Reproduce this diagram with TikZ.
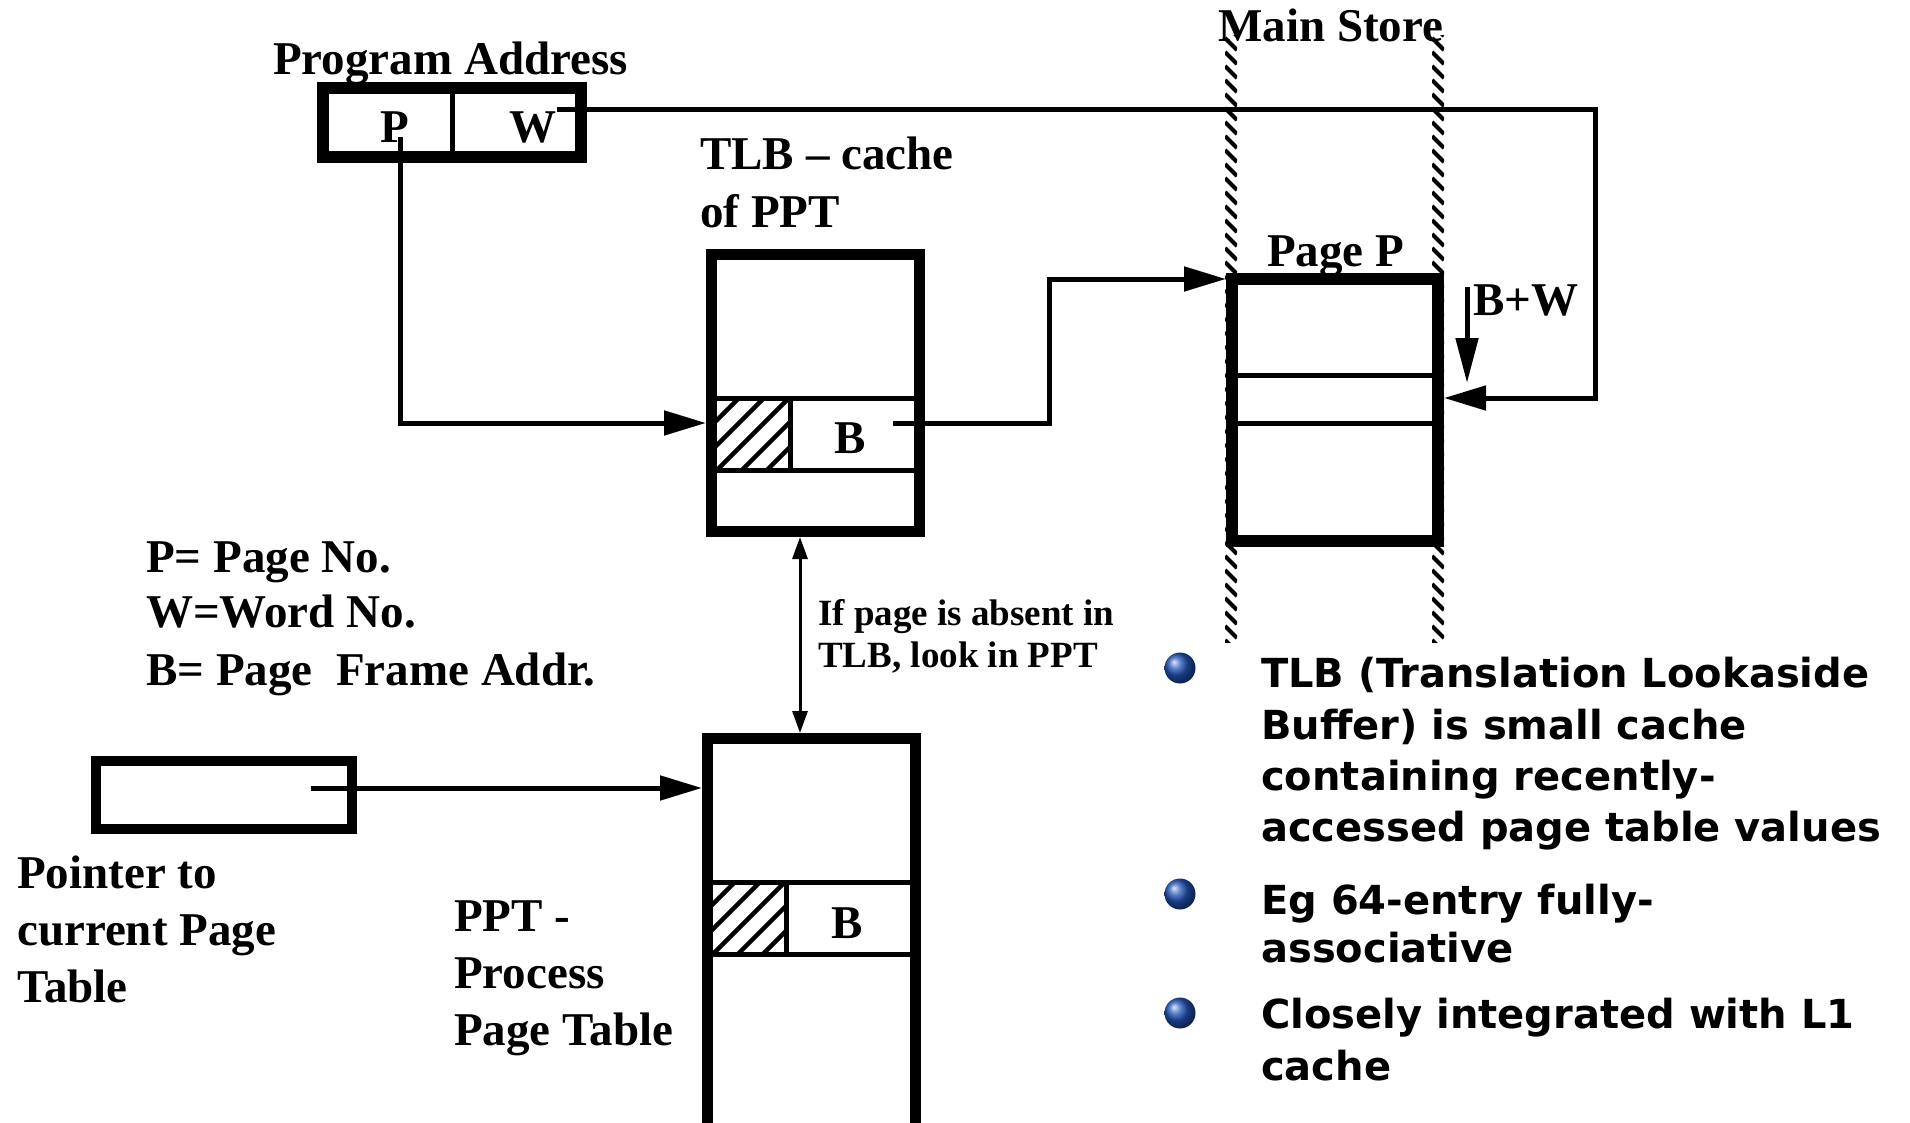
\documentclass[tikz,border=0pt]{standalone}
\usepackage{fontspec}
\setmainfont{Liberation Serif}
\newfontfamily\bulletfont{DejaVu Sans}
\usetikzlibrary{arrows.meta}
\begin{document}
\begin{tikzpicture}[x=1pt,y=-1pt,
  lbl/.style={font=\fontsize{47}{56}\selectfont\bfseries, inner sep=0pt, anchor=base west},
  lblc/.style={font=\fontsize{47}{56}\selectfont\bfseries, inner sep=0pt, anchor=base},
  small/.style={font=\fontsize{37}{43}\selectfont\bfseries, inner sep=0pt, anchor=base west},
  btxt/.style={font=\bulletfont\fontsize{40}{48}\selectfont\bfseries, inner sep=0pt, anchor=base west},
  heavy/.style={draw, rectangle, line width=12pt, inner sep=0pt},
  rowline/.style={line width=5pt},
  hatchline/.style={line width=4.5pt},
  conn/.style={line width=5pt, -{Triangle[length=42pt,width=24pt]}},
  dbl/.style={line width=3pt, {Triangle[length=22pt,width=15pt]}-{Triangle[length=22pt,width=15pt]}},
  bwarrow/.style={line width=5pt, -{Triangle[length=45pt,width=22pt]}},
  ball/.style={circle, inner sep=0pt, minimum size=31pt, shading=ball, ball color={rgb,255:red,35;green,85;blue,185}},
]
\useasboundingbox (0,0) rectangle (1910,1123);

% ---- Main store hatched boundaries
\foreach \sx in {1231,1438}{
  \begin{scope}
    \clip (\sx-6,36) rectangle (\sx+6,642);
    \foreach \sy in {24,38,...,645}
      \draw[line width=4.2pt] (\sx-6,\sy) -- (\sx+6,\sy+12);
  \end{scope}
}

% ---- Program address register
\node[heavy, minimum width=258pt, minimum height=69pt] (pa) at (452,122.5) {};
\draw[rowline] (pa.north) -- (pa.south);
\node[lblc] (ptxt) at (395,143) {P};
\node[lblc] (wtxt) at (533,143) {W};
\node[lbl] (patitle) at (273,75) {Program Address};

% ---- TLB
\begin{scope}
  \clip (717,400) rectangle (790,468);
  \foreach \k in {0,...,6}
    \draw[hatchline] ({667+25*\k},470) -- ({667+25*\k+75},395);
\end{scope}
\draw[rowline] (711.5,398) -- (919.5,398);
\draw[rowline] (711.5,470) -- (919.5,470);
\draw[rowline] (790,398) -- (790,470);
\node[heavy, line width=11pt, minimum width=208pt, minimum height=277pt] (tlb) at (815.5,393) {};
\node[lblc] (btlb) at (850,453) {B};
\node[lbl] (tlbt1) at (700,170) {TLB -- cache};
\node[lbl] (tlbt2) at (700,228) {of PPT};

% ---- Page P in main store
\draw[rowline] (1232,375) -- (1438,375);
\draw[rowline] (1232,423) -- (1438,423);
\node[heavy, minimum width=206pt, minimum height=262pt] (pp) at (1335,410) {};
\node[lbl] (mstitle) at (1218,42) {Main Store};
\node[lbl] (pptitle) at (1267,266) {Page P};
\node[lbl] (bw) at (1473,315) {B+W};
\coordinate (bwtop) at (1467,287);
\coordinate (bwbot) at (1467,383);
\draw[bwarrow] (bwtop) -- (bwbot);

% ---- PPT
\begin{scope}
  \clip (713,884) rectangle (786,952);
  \foreach \k in {0,...,6}
    \draw[hatchline] ({663+25*\k},954) -- ({663+25*\k+75},879);
\end{scope}
\draw[rowline] (707.5,882) -- (915.5,882);
\draw[rowline] (707.5,954) -- (915.5,954);
\draw[rowline] (786,882) -- (786,954);
\node[heavy, line width=11pt, minimum width=208pt, minimum height=421.5pt] (ppt) at (811.5,949.25) {};
\node[lblc] (bppt) at (847,938) {B};

% ---- Pointer to current page table
\node[heavy, line width=10pt, minimum width=256pt, minimum height=68pt] (ptr) at (224,795) {};

% ---- Connectors
\coordinate (pstart) at (400,137);
\draw[conn] (pstart) |- ([yshift=-30pt]tlb.west);
\coordinate (wstart) at (557,110);
\draw[conn] (wstart) -- ++(1038,0) |- ([yshift=12pt]pp.east);
\coordinate (bstart) at (893,423);
\draw[conn] (bstart) -- ++(156,0) |- ([yshift=-6pt]pp.north west);
\draw[dbl] ([xshift=-15.5pt]tlb.south) -- ([xshift=-11.5pt]ppt.north);
\coordinate (ptrstart) at (311,788);
\draw[conn] (ptrstart) -- (ptrstart -| ppt.west);

% ---- Legend texts
\node[lbl] (leg1) at (146,572) {P= Page No.};
\node[lbl] (leg2) at (146,627) {W=Word No.};
\node[lbl] (leg3) at (146,685) {B= Page\ \ Frame Addr.};
\node[small] (abs1) at (818,625) {If page is absent in};
\node[small] (abs2) at (818,667) {TLB, look in PPT};
\node[lbl] (ptrt1) at (17,888) {Pointer to};
\node[lbl] (ptrt2) at (17,945) {current Page};
\node[lbl] (ptrt3) at (17,1002) {Table};
\node[lbl] (pptt1) at (454,931) {PPT -};
\node[lbl] (pptt2) at (454,988) {Process};
\node[lbl] (pptt3) at (454,1045) {Page Table};

% ---- Bullets
\node[ball] (ball1) at (1180,668) {};
\node[ball] (ball2) at (1180,894) {};
\node[ball] (ball3) at (1180,1013) {};
\node[btxt] (t11) at (1261,687) {TLB (Translation Lookaside};
\node[btxt] (t12) at (1261,739) {Buffer) is small cache};
\node[btxt] (t13) at (1261,790) {containing recently-};
\node[btxt] (t14) at (1261,841) {accessed page table values};
\node[btxt] (t21) at (1261,914) {Eg 64-entry fully-};
\node[btxt] (t22) at (1261,962) {associative};
\node[btxt] (t31) at (1261,1028) {Closely integrated with L1};
\node[btxt] (t32) at (1261,1080) {cache};
\end{tikzpicture}
\end{document}
